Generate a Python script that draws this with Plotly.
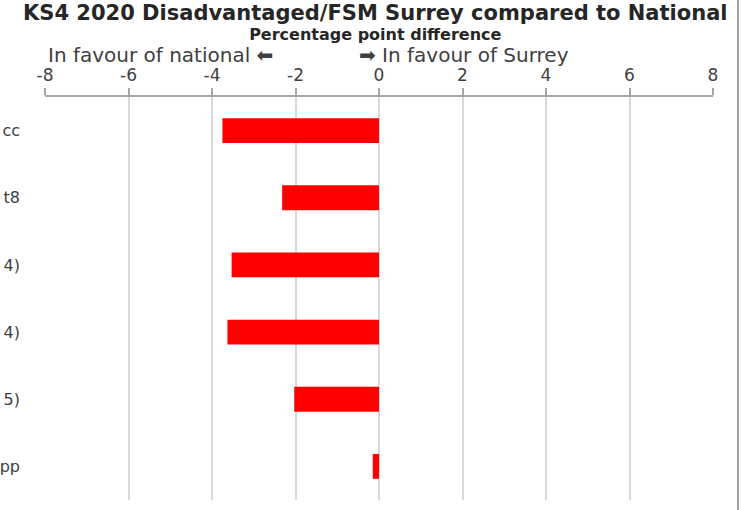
import plotly.graph_objects as go

categories = ["cc", "t8", "4)", "4)", "5)", "pp"]
values = [-3.75, -2.32, -3.53, -3.63, -2.03, -0.15]
x_ticks = [-8, -6, -4, -2, 0, 2, 4, 6, 8]

title_text = "KS4 2020 Disadvantaged/FSM Surrey compared to National"
subtitle_text = "Percentage point difference"

positions = list(range(len(categories)))
boundaries = [p + 0.5 for p in positions]

FONT = "DejaVu Sans"

fig = go.Figure()
fig.add_trace(go.Bar(
    x=values, y=positions, orientation="h",
    marker=dict(color="#ff0000", line=dict(width=0)),
    width=0.37, showlegend=False, hoverinfo="x",
))

fig.update_layout(
    width=741, height=510,
    margin=dict(l=45, r=28, t=97, b=10),
    paper_bgcolor="white", plot_bgcolor="white",
    font=dict(family=FONT, color="#404040"),
    xaxis=dict(
        range=[-8, 8], side="top", tickvals=x_ticks,
        ticktext=[str(v) for v in x_ticks],
        showgrid=True, gridcolor="#d9d9d9", gridwidth=1.5,
        zeroline=False, showline=True, linecolor="#a6a6a6", linewidth=1.5,
        ticks="outside", ticklen=7, tickcolor="#a6a6a6", tickwidth=1.5,
        tickfont=dict(size=17, color="#404040"), fixedrange=True,
        automargin=False,
    ),
    yaxis=dict(
        range=[len(categories) - 0.5, -0.5],
        tickvals=positions, ticktext=categories,
        showgrid=False, zeroline=False, showline=False, ticks="",
        tickfont=dict(size=16, color="#404040"), ticklabelstandoff=24,
        automargin=False, fixedrange=True,
    ),
    yaxis2=dict(
        overlaying="y", anchor="free", position=0.5,
        range=[len(categories) - 0.5, -0.5],
        tickvals=[-0.5] + boundaries, showticklabels=False,
        showgrid=False, zeroline=False, showline=True,
        linecolor="#a0a0a0", linewidth=1.5,
        ticks="outside", ticklen=5, tickcolor="#a0a0a0", tickwidth=1.5,
        automargin=False,
    ),
    annotations=[
        dict(text=(f"<span style='font-size:21px'><b>{title_text}</b></span><br>"
                   f"<span style='font-size:16px'><b>{subtitle_text}</b></span>"),
             xref="paper", yref="paper", x=0.495, y=1, yshift=75,
             xanchor="center", yanchor="middle", showarrow=False, align="center",
             font=dict(size=15, color="#262626", family=FONT)),
        dict(text="In favour of national ⬅",
             xref="x", yref="paper", x=-2.49, y=1, yshift=42,
             xanchor="right", yanchor="middle", showarrow=False,
             font=dict(size=20, color="#404040", family=FONT)),
        dict(text="➡ In favour of Surrey",
             xref="x", yref="paper", x=-0.53, y=1, yshift=42,
             xanchor="left", yanchor="middle", showarrow=False,
             font=dict(size=20, color="#404040", family=FONT)),
    ],
    shapes=[
        dict(type="line", xref="paper", yref="paper", x0=1.0374, x1=1.0374,
             y0=-0.1, y1=1.3, line=dict(color="#a0a0a0", width=2)),
    ],
)

fig.write_html("out.html", config={"displayModeBar": False},
               post_script="document.body.style.margin='0';")
